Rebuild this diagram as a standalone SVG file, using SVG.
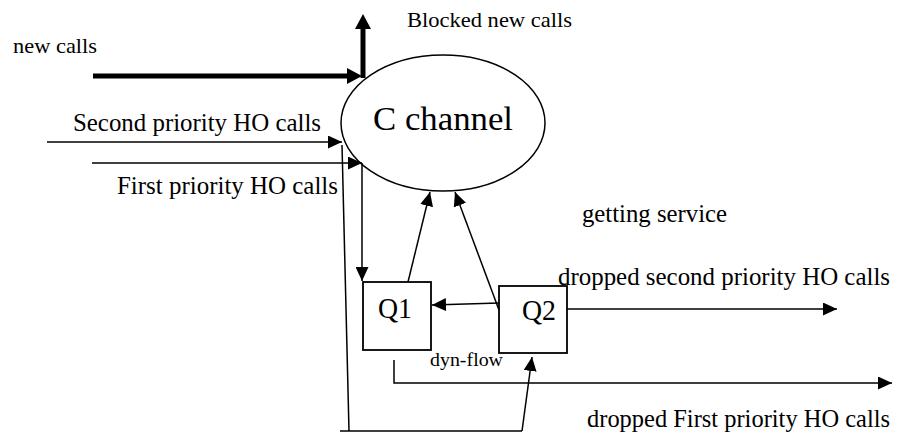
<svg xmlns="http://www.w3.org/2000/svg" width="900" height="433" viewBox="0 0 900 433">
<style>
text{font-family:"Liberation Serif","DejaVu Serif","Times New Roman",serif;fill:#000}
.l{font-size:24.5px}
.s{font-size:22px}
.q{font-size:30px}
.thin{stroke:#000;stroke-width:1.5;fill:none}
.thick{stroke:#000;stroke-width:5;fill:none}
.a{marker-end:url(#ah)}
.A{marker-end:url(#AH)}
</style>
<defs>
<marker id="ah" markerUnits="userSpaceOnUse" markerWidth="15" markerHeight="13" refX="14" refY="6.5" orient="auto" viewBox="0 0 15 13">
<path d="M0,0 L14,6.5 L0,13 z" fill="#000"/>
</marker>
<marker id="AH" markerUnits="userSpaceOnUse" markerWidth="16" markerHeight="16" refX="1" refY="8" orient="auto" viewBox="0 0 16 16">
<path d="M0,0 L15,8 L0,16 z" fill="#000"/>
</marker>
</defs>
<rect width="900" height="433" fill="#fff"/>
<g id="connectors">
<line class="thick A" x1="93" y1="76" x2="348" y2="76"/>
<line class="thick A" x1="363" y1="78" x2="363" y2="28"/>
<line class="thin a" x1="47" y1="142" x2="342" y2="142"/>
<line class="thin a" x1="92" y1="163" x2="362" y2="163"/>
<line class="thin a" x1="362" y1="163" x2="362" y2="281"/>
<line class="thin a" x1="408" y1="282" x2="430" y2="192"/>
<line class="thin a" x1="499" y1="310" x2="455" y2="192"/>
<line class="thin a" x1="499" y1="303" x2="432" y2="305"/>
<line class="thin a" x1="567" y1="309" x2="837" y2="309"/>
<polyline class="thin a" points="394,360 394,383 892,383"/>
<polyline class="thin" points="342,145 349,431"/>
<line class="thin" x1="340" y1="431" x2="522" y2="431"/>
<line class="thin a" x1="522" y1="431" x2="532" y2="357"/>
</g>
<g id="cchannel">
<ellipse cx="443" cy="123" rx="102" ry="68" fill="none" stroke="#000" stroke-width="1.5"/>
<text x="373" y="130" font-size="34" textLength="140" lengthAdjust="spacingAndGlyphs">C channel</text>
</g>
<g id="q1">
<rect x="363" y="282" width="68" height="68" fill="none" stroke="#000" stroke-width="1.8"/>
<text class="q" x="378" y="318" textLength="34" lengthAdjust="spacingAndGlyphs">Q1</text>
</g>
<g id="q2">
<rect x="499" y="286" width="68" height="67" fill="none" stroke="#000" stroke-width="1.8"/>
<text class="q" x="522" y="320" textLength="34" lengthAdjust="spacingAndGlyphs">Q2</text>
</g>
<g id="labels">
<text class="s" x="13" y="53" textLength="84" lengthAdjust="spacingAndGlyphs">new calls</text>
<text class="s" x="407" y="27" textLength="165" lengthAdjust="spacingAndGlyphs">Blocked new calls</text>
<text class="l" x="73" y="131" textLength="248" lengthAdjust="spacingAndGlyphs">Second priority HO calls</text>
<text class="l" x="117" y="194" textLength="221" lengthAdjust="spacingAndGlyphs">First priority HO calls</text>
<text class="l" x="582" y="222" textLength="145" lengthAdjust="spacingAndGlyphs">getting service</text>
<text class="l" x="558" y="285" textLength="332" lengthAdjust="spacingAndGlyphs">dropped second priority HO calls</text>
<text class="l" x="587" y="427" textLength="303" lengthAdjust="spacingAndGlyphs">dropped First priority HO calls</text>
<text x="430" y="366" font-size="19" textLength="73" lengthAdjust="spacingAndGlyphs">dyn-flow</text>
</g>
</svg>
